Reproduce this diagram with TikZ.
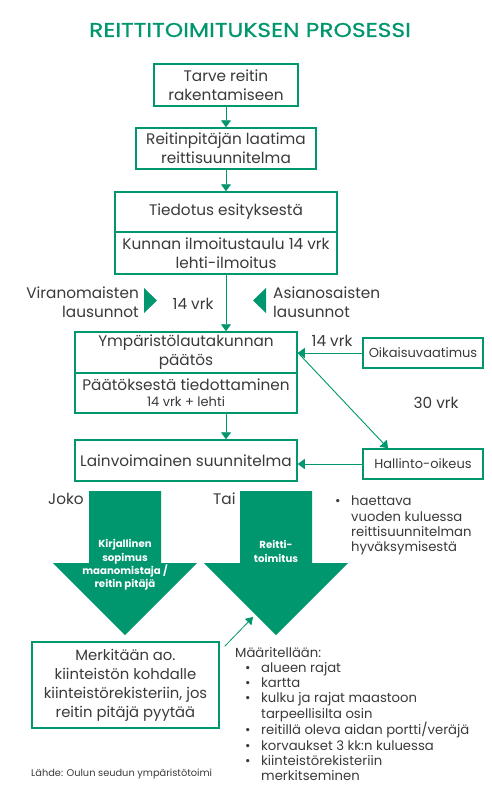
\documentclass[tikz,border=0pt]{standalone}
\usepackage{fontspec}
\setmainfont{Poppins}
\newfontfamily\titlefont[FakeStretch=1.17, FakeBold=0.6]{Poppins}
\usetikzlibrary{arrows.meta}
\definecolor{grn}{HTML}{00966E}
\definecolor{txt}{HTML}{3A3A3A}
\tikzset{
  box/.style={draw=grn, line width=1.5pt, align=center, text=txt, font=\fontsize{15.3}{19}\selectfont, inner sep=0pt},
  smallbox/.style={box, font=\fontsize{13}{15}\selectfont},
  conn/.style={draw=grn, line width=0.9pt, -{Triangle[width=10pt,length=7pt]}},
  lbl/.style={text=txt, font=\fontsize{15.3}{18.5}\selectfont, inner sep=0pt},
  lst/.style={text=txt, font=\fontsize{13.2}{15.2}\selectfont, inner sep=0pt, align=left},
  bigarrow/.style={fill=grn, draw=none},
  arrtext/.style={text=white, font=\bfseries\fontsize{10.2}{13.3}\selectfont, align=center, inner sep=0pt},
  marker/.style={fill=grn, draw=none},
}
\newcommand{\bul}{\makebox[16pt][l]{\textbullet}}
\begin{document}
\begin{tikzpicture}[x=1pt,y=-1pt]
\useasboundingbox[fill=white] (0,0) rectangle (492,800);

\node[text=grn, font=\titlefont\fontsize{20}{24}\selectfont, inner sep=0pt] (title) at (250,30) {REITTITOIMITUKSEN PROSESSI};

\node[box, minimum width=144pt, minimum height=42pt] (b1) at (226,85) {Tarve reitin\\rakentamiseen};
\node[box, minimum width=180pt, minimum height=41pt] (b2) at (226,148.5) {Reitinpitäjän laatima\\reittisuunnitelma};
\node[box, minimum width=222pt, minimum height=40pt] (b3a) at (226,212) {Tiedotus esityksestä};
\node[box, minimum width=222pt, minimum height=42pt] (b3b) at (226,253) {Kunnan ilmoitustaulu 14 vrk\\lehti-ilmoitus};

\node[box, minimum width=222pt, minimum height=41pt] (b4a) at (186,352.5) {Ympäristölautakunnan\\päätös};
\node[box, minimum width=222pt, minimum height=40pt] (b4b) at (186,393) {Päätöksestä tiedottaminen\\[-3pt]{\fontsize{13}{14}\selectfont 14 vrk + lehti}};
\node[box, minimum width=222pt, minimum height=41pt] (b5) at (186,460.5) {Lainvoimainen suunnitelma};

\node[smallbox, minimum width=120pt, minimum height=30pt] (oik) at (423,353) {Oikaisuvaatimus};
\node[smallbox, minimum width=120pt, minimum height=30pt] (hal) at (423,464) {Hallinto-oikeus};

\node[box, minimum width=187pt, minimum height=86pt, font=\fontsize{14.8}{19}\selectfont] (b6) at (125.5,685) {Merkitään ao.\\kiinteistön kohdalle\\kiinteistörekisteriin, jos\\reitin pitäjä pyytää};

% connectors
\draw[conn] (b1.south) -- (b2.north);
\draw[conn] (b2.south) -- (b3a.north);
\draw[conn] (b3b.south) -- (b3b.south |- b4a.north);
\draw[conn] (b4b.south -| b3b.south) -- (b3b.south |- b5.north);
\draw[conn] (oik.west) -- (oik.west -| b4a.east);
\draw[conn] (b4a.east) -- ([xshift=-35pt]hal.north);
\draw[conn] (hal.west) -- (hal.west -| b5.east);

% side labels
\node[lbl, align=right, anchor=east] (viran) at (139,302) {Viranomaisten\\lausunnot};
\node[lbl, align=left, anchor=west] (asian) at (273,302) {Asianosaisten\\lausunnot};
\node[lbl] (vrk1) at (193,304) {14 vrk};
\fill[marker] (144,288) -- (157,300.5) -- (144,313) -- cycle;
\fill[marker] (266,288) -- (253,300.5) -- (266,313) -- cycle;
\node[lbl] (vrk2) at (332,341) {14 vrk};
\node[lbl] (vrk3) at (436,403) {30 vrk};

% big arrows
\path[bigarrow] (89,491) -- (161,491) -- (161,563) -- (197,563) -- (125,635) -- (53,563) -- (89,563) -- cycle;
\path[bigarrow] (240,491) -- (312,491) -- (312,563) -- (348,563) -- (276,635) -- (204,563) -- (240,563) -- cycle;
\node[arrtext] (at1) at (125,565) {Kirjallinen\\sopimus\\maanomistaja /\\reitin pitäjä};
\node[arrtext] (at2) at (276,551.5) {Reitti-\\toimitus};
\node[lbl, anchor=west] (joko) at (48,499) {Joko};
\node[lbl, anchor=west] (tai) at (213,499) {Tai};

\node[lst, anchor=west] (haet) at (335,525.5) {\bul haettava\\\hspace{16pt}vuoden kuluessa\\\hspace{16pt}reittisuunnitelman\\\hspace{16pt}hyväksymisestä};

\coordinate (tip) at (253,617);
\draw[draw=grn, line width=0.8pt, -{Triangle[width=9pt,length=7pt]}] ([xshift=5pt,yshift=-5pt]b6.north east) -- (tip);

\node[lst, anchor=north west] (maar) at (235,647) {Määritellään:\\
\hspace{10pt}\bul alueen rajat\\
\hspace{10pt}\bul kartta\\
\hspace{10pt}\bul kulku ja rajat maastoon\\
\hspace{26pt}tarpeellisilta osin\\
\hspace{10pt}\bul reitillä oleva aidan portti/veräjä\\
\hspace{10pt}\bul korvaukset 3 kk:n kuluessa\\
\hspace{10pt}\bul kiinteistörekisteriin\\
\hspace{26pt}merkitseminen};

\node[text=txt, font=\fontsize{9.8}{11}\selectfont, inner sep=0pt, anchor=west] (lahde) at (31,774) {Lähde: Oulun seudun ympäristötoimi};
\end{tikzpicture}
\end{document}
